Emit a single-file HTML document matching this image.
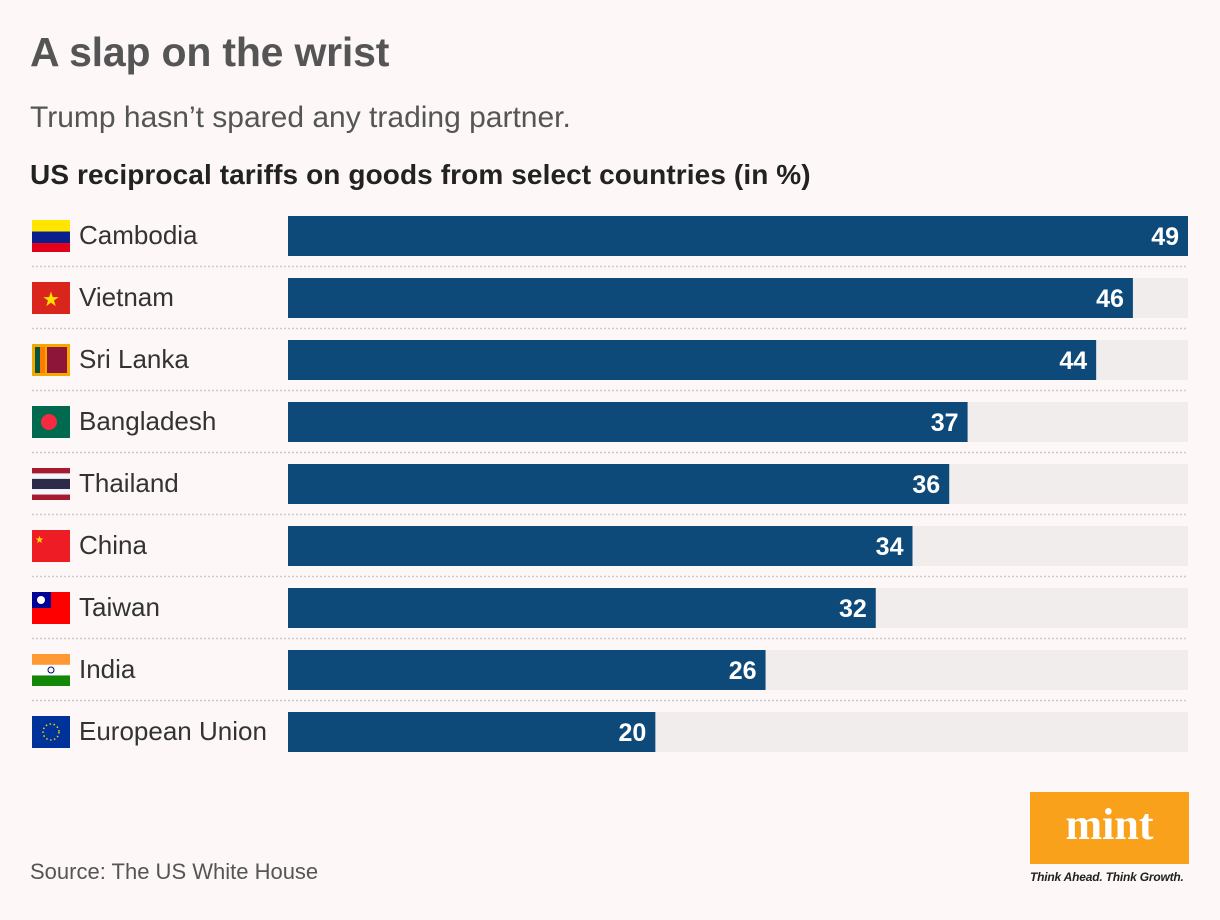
<!DOCTYPE html>
<html><head><meta charset="utf-8"><style>
body{margin:0;background:#fdf8f7;font-family:"Liberation Sans",sans-serif;}
#wrap{position:relative;width:1220px;height:920px;overflow:hidden;background:#fdf8f7;}
.t{position:absolute;white-space:nowrap;}
</style></head><body>
<div id="wrap">
<div class="t" style="left:30px;top:29px;font-size:41px;font-weight:bold;color:#555;letter-spacing:-0.2px">A slap on the wrist</div>
<div class="t" style="left:30px;top:101px;font-size:30px;color:#555">Trump hasn’t spared any trading partner.</div>
<div class="t" style="left:30px;top:159px;font-size:28px;font-weight:bold;color:#222;letter-spacing:0.1px">US reciprocal tariffs on goods from select countries (in %)</div>
<svg id="chart" width="1220" height="920" style="position:absolute;left:0;top:0"></svg>
<div class="t" style="left:30px;top:859px;font-size:22px;color:#555">Source: The US White House</div>
<div style="position:absolute;left:1030px;top:792px;width:159px;height:72px;background:#f9a11b;color:#fff;font-family:'Liberation Serif',serif;font-weight:bold;font-size:44px;text-align:center;line-height:66px">mint</div>
<div class="t" style="left:1030px;top:870px;font-size:12px;font-style:italic;font-weight:bold;color:#222;letter-spacing:-0.2px">Think Ahead. Think Growth.</div>
</div>
<script>
const categories=["Cambodia","Vietnam","Sri Lanka","Bangladesh","Thailand","China","Taiwan","India","European Union"];
const values=[49,46,44,37,36,34,32,26,20];
const maxValue=49;
const svg=document.getElementById('chart');
const NS='http://www.w3.org/2000/svg';
const x0=288,x1=1188,top0=216,step=62,bh=40;
const xs=v=>x0+(x1-x0)*v/maxValue;
function mk(t,a){const e=document.createElementNS(NS,t);for(const k in a)e.setAttribute(k,a[k]);svg.appendChild(e);return e;}
const flags=[
 [["#ffe500",0,0.36],["#0a1e8c",0.36,0.36],["#e0001b",0.72,0.28]],
 [["#da251d",0,1]],
 [["#f7a800",0,1]],
 [["#006a4e",0,1]],
 [["#a51931",0,0.17],["#f4f5f8",0.17,0.17],["#2d2a4a",0.34,0.32],["#f4f5f8",0.66,0.17],["#a51931",0.83,0.17]],
 [["#ee1c25",0,1]],
 [["#fe0000",0,1]],
 [["#ff9933",0,0.34],["#ffffff",0.34,0.33],["#138808",0.67,0.33]],
 [["#003399",0,1]]
];
categories.forEach((c,i)=>{
 const y=top0+i*step;
 const bg=mk('rect',{x:x0,y:y,width:x1-x0,height:bh,fill:'#f1edec'});
 
 
 const b=mk('rect',{x:x0,y:y,width:xs(values[i])-x0,height:bh,fill:'#0d4a7a'});
 
 
 const v=mk('text',{x:xs(values[i])-9,y:y+29,'text-anchor':'end',fill:'#fff','font-size':25,'font-weight':'bold','font-family':'Liberation Sans'});
 v.textContent=values[i];
 
 
 const l=mk('text',{x:79,y:y+28,fill:'#333','font-size':26,'font-family':'Liberation Sans'});
 l.textContent=c;
 
 
 flags[i].forEach(f=>{mk('rect',{x:32,y:y+4+32*f[1],width:38,height:32*f[2],fill:f[0]});});
 if(i==1)mk('text',{x:51,y:y+28,'text-anchor':'middle',fill:'#ffde00','font-size':20}).textContent='★';
 if(i==2){mk('rect',{x:35,y:y+7,width:5,height:26,fill:'#005641'});mk('rect',{x:40,y:y+7,width:5,height:26,fill:'#ff7900'});mk('rect',{x:47,y:y+7,width:20,height:26,fill:'#8d153a'});}
 if(i==3)mk('circle',{cx:49,cy:y+20,r:8,fill:'#f42a41'});
 if(i==5)mk('text',{x:35,y:y+17,fill:'#ffde00','font-size':10}).textContent='★';
 if(i==6){mk('rect',{x:32,y:y+4,width:19,height:16,fill:'#000095'});mk('circle',{cx:41,cy:y+12,r:4,fill:'#fff'});}
 if(i==7)mk('circle',{cx:51,cy:y+20,r:3,fill:'none',stroke:'#000080','stroke-width':1});
 if(i==8)mk('circle',{cx:51,cy:y+20,r:8,fill:'none',stroke:'#ffcc00','stroke-width':1.5,'stroke-dasharray':'1.5 2.5'});
 if(i<categories.length-1){
  const s=mk('line',{x1:32,x2:1188,y1:y+bh+10.5,y2:y+bh+10.5,stroke:'#cfcaca','stroke-width':1.5,'stroke-dasharray':'2 2'});
  
  
 }
});
</script>
</body></html>
